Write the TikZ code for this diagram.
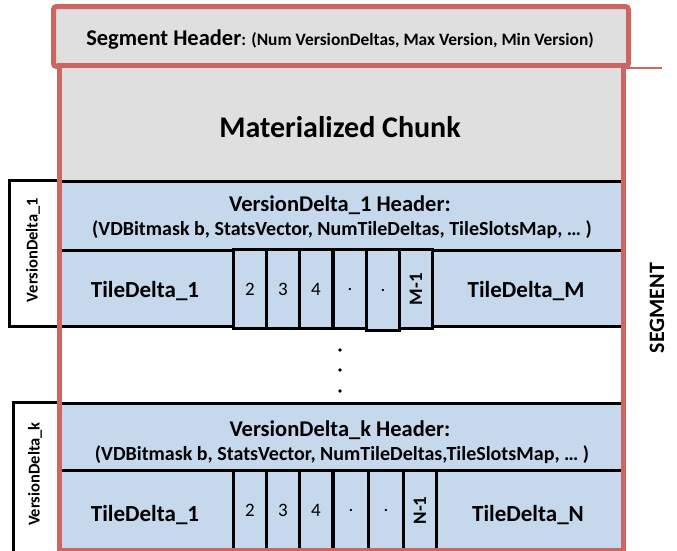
\documentclass[tikz,border=0pt]{standalone}
\usepackage{fontspec}
\setmainfont{Carlito}
\definecolor{segred}{RGB}{205,102,96}
\definecolor{chunkgray}{RGB}{223,223,223}
\definecolor{vdblue}{RGB}{197,216,236}
\tikzset{
  region/.style={rectangle, anchor=north west, inner sep=0pt, draw=black, line width=3pt},
  smallbox/.style={rectangle, anchor=north west, inner sep=0pt, draw=black, line width=3pt, fill=vdblue, minimum width=33pt, minimum height=79pt, font=\fontsize{19}{21}\selectfont},
  vdlabel/.style={rectangle, anchor=north west, inner sep=0pt, draw=black, line width=2.5pt, fill=white},
  redframe/.style={draw=segred, line width=5pt},
  bigtext/.style={anchor=base, font=\bfseries\fontsize{23}{26}\selectfont},
  hline1/.style={anchor=base, font=\bfseries\fontsize{22.5}{26}\selectfont},
  hline2/.style={anchor=base, font=\bfseries\fontsize{20}{24}\selectfont},
  sidelabel/.style={rotate=90, font=\bfseries\fontsize{16.5}{18}\selectfont},
}
\begin{document}
\begin{tikzpicture}[x=1pt,y=-1pt]
\useasboundingbox (0,0) rectangle (677,550);
% header
\node[rectangle, anchor=north west, inner sep=0pt, minimum width=575pt, minimum height=60pt, fill=chunkgray, redframe, rounded corners=3pt] (hdr) at (51,4) {};
\node[anchor=base] (hdrtext) at (340,45) {\bfseries{\fontsize{22.5}{24}\selectfont Segment Header}{\fontsize{17.4}{20}\selectfont: (Num VersionDeltas, Max Version, Min Version)}};
% chunk
\node[rectangle, anchor=north west, inner sep=0pt, minimum width=564pt, minimum height=117pt, fill=chunkgray] (chunk) at (57,63) {};
\node[anchor=base, font=\bfseries\fontsize{30}{34}\selectfont] (chunktext) at (340,137) {Materialized Chunk};
% VD1 label
\node[vdlabel, minimum width=49pt, minimum height=146pt] (vd1lab) at (8,179) {};
\node[sidelabel] (vd1labtext) at (33,250) {VersionDelta\_1};
% VD1 header
\node[region, fill=vdblue, minimum width=564pt, minimum height=69pt] (vd1h) at (57,180) {};
\node[hline1] (vd1hl1) at (340,211) {VersionDelta\_1 Header:};
\node[hline2] (vd1hl2) at (342,235) {(VDBitmask b, StatsVector, NumTileDeltas, TileSlotsMap, … )};
% VD1 tile row
\node[region, fill=vdblue, minimum width=564pt, minimum height=76pt] (vd1t) at (57,249) {};
\node[bigtext] (td1a) at (145,297) {TileDelta\_1};
\node[smallbox] (m2) at (232,248) {2};
\node[smallbox] (m3) at (265,248) {3};
\node[smallbox] (m4) at (298,248) {4};
\node[smallbox] (m5) at (332,248) {.};
\node[smallbox, minimum height=81pt] (m6) at (365,248) {.};
\node[smallbox] (m7) at (398,248) {\rotatebox{90}{\bfseries\fontsize{19}{21}\selectfont M-1}};
\node[bigtext] (tdM) at (526,297) {TileDelta\_M};
% dots
\fill (340,350) circle (1.8pt) (340,370) circle (1.8pt) (340,391) circle (1.8pt);
% VDk label
\node[vdlabel, minimum width=45pt, minimum height=150pt] (vdklab) at (12,401) {};
\node[sidelabel] (vdklabtext) at (35,474) {VersionDelta\_k};
% VDk header
\node[region, fill=vdblue, minimum width=564pt, minimum height=67pt] (vdkh) at (57,402) {};
\node[hline1] (vdkhl1) at (340,436) {VersionDelta\_k Header:};
\node[hline2] (vdkhl2) at (342,460) {(VDBitmask b, StatsVector, NumTileDeltas,TileSlotsMap, … )};
% VDk tile row
\node[region, fill=vdblue, minimum width=564pt, minimum height=80pt] (vdkt) at (57,469) {};
\node[bigtext] (tk1) at (145,521) {TileDelta\_1};
\node[smallbox, minimum height=80pt] (n2) at (232,469) {2};
\node[smallbox, minimum height=80pt] (n3) at (265,469) {3};
\node[smallbox, minimum height=80pt] (n4) at (298,469) {4};
\node[smallbox, minimum height=80pt, minimum width=35pt] (n5) at (332,469) {.};
\node[smallbox, minimum height=80pt, minimum width=35pt] (n6) at (367,469) {.};
\node[smallbox, minimum height=80pt] (n7) at (402,469) {\rotatebox{90}{\bfseries\fontsize{19}{21}\selectfont N-1}};
\node[bigtext] (tdN) at (528,521) {TileDelta\_N};
% main red frame
\node[rectangle, anchor=north west, inner sep=0pt, minimum width=564pt, minimum height=485pt, redframe] (seg) at (57,63) {};
\coordinate (segend) at (662,68);
\draw[segred, line width=1.5pt] (seg.north east |- segend) -- (segend);
\node[rotate=90, font=\bfseries\fontsize{22}{24}\selectfont] (segtext) at (657,308) {SEGMENT};
\end{tikzpicture}
\end{document}
